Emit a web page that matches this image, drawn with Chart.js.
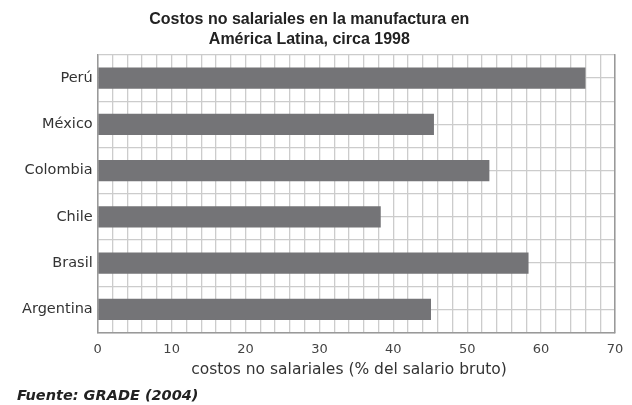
<!DOCTYPE html>
<html>
<head>
<meta charset="utf-8">
<script src="https://cdn.jsdelivr.net/npm/chart.js@4"></script>
<style>
html,body{margin:0;padding:0;background:#fff;}
#wrap{width:632px;height:405px;}
</style>
</head>
<body>
<div id="wrap"><canvas id="c" width="632" height="405"></canvas></div>
<script>
const categories = ['Perú', 'México', 'Colombia', 'Chile', 'Brasil', 'Argentina'];
const costos = [66, 45.5, 53, 38.3, 58.3, 45.1];
const xTickLabels = [0, 10, 20, 30, 40, 50, 60, 70];
const titleLines = ['Costos no salariales en la manufactura en   ', 'América Latina, circa 1998   '];
const xAxisTitle = 'costos no salariales (% del salario bruto)   ';
const sourceNote = 'Fuente: GRADE (2004)';

const TFONT = "'Liberation Sans', Arial, sans-serif";
const FONT = "'DejaVu Sans', sans-serif";

new Chart(document.getElementById('c'), {
  type: 'bar',
  data: {
    labels: categories,
    datasets: [{
      data: costos,
      backgroundColor: '#747477',
      borderWidth: 0,
      barPercentage: 0.46,
      categoryPercentage: 1.0
    }]
  },
  options: {
    indexAxis: 'y',
    responsive: false,
    animation: false,
    devicePixelRatio: 1,
    layout: { padding: { left: 17, right: 17, top: 6, bottom: 0 } },
    plugins: {
      legend: { display: false },
      tooltip: { enabled: false },
      title: {
        display: true,
        text: titleLines,
        color: '#222',
        font: { family: TFONT, size: 16, weight: 'bold', lineHeight: 1.25 },
        padding: { top: 4, bottom: 5 }
      },
      subtitle: {
        display: true,
        position: 'bottom',
        align: 'start',
        text: sourceNote,
        color: '#222',
        font: { family: FONT, size: 14.5, weight: 'bold', style: 'italic', lineHeight: 1.2 },
        padding: { top: 8, bottom: 0 }
      }
    },
    scales: {
      x: {
        type: 'linear',
        min: 0,
        max: 70,
        ticks: {
          stepSize: 2,
          autoSkip: false,
          maxRotation: 0,
          color: '#444',
          font: { family: FONT, size: 13, lineHeight: 1.2 },
          padding: 1,
          callback: (v) => xTickLabels.includes(v) ? String(v) : ''
        },
        grid: { color: '#cccccc', lineWidth: 1.3, drawTicks: true, tickLength: 8, tickColor: 'rgba(0,0,0,0)' },
        border: { color: '#999', width: 1.5 },
        title: {
          display: true,
          text: xAxisTitle,
          color: '#333',
          font: { family: FONT, size: 15.5, lineHeight: 1.2 },
          padding: { top: 3, bottom: 0 }
        }
      },
      y: {
        type: 'category',
        offset: true,
        ticks: {
          color: '#333',
          font: { family: FONT, size: 14.5 },
          padding: 5
        },
        grid: { offset: true, color: '#cccccc', lineWidth: 1.3, drawTicks: false },
        border: { color: '#999', width: 1.5 }
      },
      y2: {
        type: 'category',
        labels: categories,
        position: 'right',
        offset: true,
        ticks: { display: false },
        grid: { offset: false, color: '#cccccc', lineWidth: 1.3, drawTicks: false },
        border: { color: '#999', width: 1.5 }
      }
    }
  }
});
</script>
</body>
</html>
